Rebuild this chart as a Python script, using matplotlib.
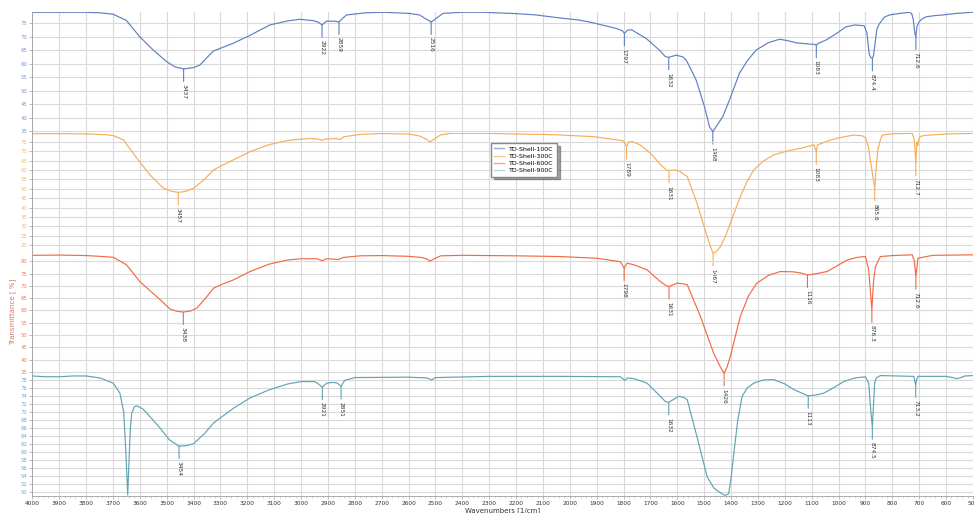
import numpy as np
import matplotlib.pyplot as plt
from matplotlib.ticker import MultipleLocator

# FTIR spectra, wavenumber [1/cm] vs transmittance [%]
wn_100 = [4000, 3900, 3800, 3750, 3700, 3650, 3600, 3550, 3500, 3470, 3437, 3400, 3377, 3327,
          3253, 3191, 3116, 3050, 3005, 2955, 2935, 2922, 2906, 2875, 2859, 2845, 2831, 2760,
          2695, 2600, 2559, 2535, 2516, 2500, 2472, 2400, 2323, 2200, 2125, 2038, 1964, 1914,
          1827, 1805, 1797, 1785, 1770, 1716, 1667, 1645, 1632, 1605, 1580, 1567, 1530, 1499,
          1480, 1468, 1456, 1431, 1406, 1369, 1340, 1307, 1260, 1220, 1190, 1158, 1120, 1090,
          1083, 1075, 1047, 1010, 973, 940, 905, 895, 886, 880, 874.4, 870, 865, 858, 850,
          830, 811, 770, 737, 728, 722, 716, 712.6, 708, 700, 690, 675, 640, 613, 560, 500]
tr_100 = [79.0, 79.0, 79.0, 78.8, 78.3, 76.0, 69.9, 65.0, 60.7, 58.8, 58.0, 58.5, 59.4, 64.6,
          67.5, 70.4, 74.3, 75.8, 76.4, 75.9, 75.3, 74.3, 75.7, 75.7, 75.4, 76.8, 78.0, 78.8,
          79.0, 78.6, 78.0, 76.5, 75.4, 76.5, 78.6, 79.0, 79.0, 78.5, 78.0, 76.9, 76.1, 75.1,
          73.0, 72.2, 71.2, 72.4, 72.5, 69.3, 65.0, 62.6, 62.3, 63.1, 62.5, 61.3, 53.9, 44.0,
          36.5, 34.8, 36.6, 40.3, 46.5, 56.4, 61.0, 65.0, 67.8, 69.0, 68.5, 67.7, 67.3, 67.1,
          66.8, 67.5, 68.7, 71.0, 73.6, 74.3, 74.0, 71.5, 63.5, 62.2, 61.9, 63.0, 67.0, 72.5, 74.5,
          77.2, 78.0, 78.6, 79.0, 78.5, 76.1, 71.0, 69.9, 74.0, 75.5, 76.5, 77.3, 77.8, 78.0, 78.6, 79.0]

wn_300 = [4000, 3900, 3800, 3720, 3700, 3661, 3611, 3562, 3512, 3480, 3457, 3430, 3400, 3360,
          3326, 3290, 3252, 3190, 3120, 3050, 3000, 2960, 2935, 2922, 2910, 2870, 2855, 2840,
          2780, 2700, 2600, 2560, 2535, 2520, 2505, 2480, 2440, 2300, 2200, 2100, 2036, 1911,
          1824, 1800, 1789, 1780, 1768, 1740, 1700, 1660, 1640, 1631, 1607, 1590, 1563, 1527,
          1489, 1475, 1467, 1455, 1440, 1420, 1403, 1366, 1340, 1316, 1280, 1242, 1190, 1142,
          1092, 1083, 1079, 1040, 1005, 943, 910, 900, 890, 880, 872, 865.6, 860, 854, 845, 838,
          800, 726, 720, 716, 712.7, 709, 706, 702, 698, 680, 600, 500]
tr_300 = [79.4, 79.4, 79.3, 78.8, 78.4, 76.1, 66.3, 57.4, 50.3, 48.6, 48.1, 48.6, 50.3, 55.0,
          60.0, 62.8, 65.4, 69.8, 73.5, 75.8, 76.5, 76.8, 76.5, 75.8, 76.5, 76.8, 76.3, 77.8,
          79.0, 79.5, 79.2, 78.2, 76.5, 75.0, 76.5, 78.8, 79.6, 79.6, 79.2, 79.0, 78.7, 77.8,
          76.1, 75.5, 72.5, 75.0, 75.2, 73.5, 69.0, 62.5, 60.0, 59.8, 60.0, 59.2, 56.5, 42.3,
          24.4, 18.5, 15.6, 16.5, 19.1, 25.0, 31.6, 45.8, 54.0, 60.0, 64.8, 68.1, 70.2, 71.6,
          73.4, 69.8, 73.4, 75.5, 77.0, 78.7, 78.2, 77.0, 73.0, 63.6, 56.0, 50.3, 62.0, 70.7, 76.0, 78.7,
          79.3, 79.6, 77.0, 71.0, 63.6, 75.0, 73.0, 76.0, 77.8, 78.5, 79.2, 79.6]

wn_600 = [4000, 3900, 3800, 3750, 3699, 3649, 3600, 3537, 3487, 3460, 3438, 3410, 3388, 3355,
          3326, 3290, 3252, 3190, 3120, 3050, 3000, 2940, 2921, 2905, 2860, 2845, 2780, 2700,
          2600, 2550, 2530, 2520, 2505, 2480, 2400, 2200, 2036, 1899, 1812, 1798, 1787, 1760,
          1713, 1663, 1640, 1631, 1600, 1580, 1563, 1514, 1465, 1440, 1426, 1415, 1403, 1366,
          1335, 1304, 1260, 1217, 1170, 1140, 1116, 1090, 1043, 1000, 968, 930, 900, 888, 882,
          876.3, 870, 863, 845, 800, 726, 718, 712.6, 708, 705, 650, 500]
tr_600 = [82.4, 82.5, 82.3, 82.0, 81.6, 78.5, 71.7, 65.6, 60.5, 59.6, 59.3, 59.8, 60.9, 65.0,
          69.0, 70.8, 72.4, 75.8, 78.8, 80.5, 81.0, 81.0, 80.2, 81.0, 80.7, 81.5, 82.2, 82.3,
          82.0, 81.5, 80.8, 80.0, 81.0, 82.2, 82.4, 82.2, 81.9, 81.2, 79.8, 77.2, 79.2, 78.5,
          76.5, 71.7, 69.9, 69.7, 71.1, 70.8, 70.4, 57.5, 42.6, 37.0, 34.4, 37.0, 41.2, 57.5,
          66.0, 71.1, 74.3, 75.8, 75.7, 75.2, 74.4, 74.8, 75.8, 78.5, 80.5, 81.6, 81.9, 76.5, 68.0,
          60.2, 72.0, 77.8, 81.9, 82.3, 82.6, 80.0, 73.7, 78.0, 81.2, 82.4, 82.6]

wn_900 = [4000, 3950, 3900, 3850, 3800, 3748, 3699, 3674, 3660, 3652, 3645, 3640, 3635, 3630,
          3620, 3611, 3590, 3574, 3524, 3490, 3454, 3430, 3401, 3360, 3326, 3290, 3252, 3190,
          3120, 3050, 3000, 2950, 2935, 2921, 2905, 2880, 2865, 2851, 2838, 2800, 2600, 2530, 2515,
          2500, 2300, 2036, 1812, 1796, 1785, 1760, 1713, 1663, 1645, 1632, 1595, 1575, 1563,
          1527, 1489, 1465, 1452, 1430, 1421, 1409, 1400, 1390, 1375, 1359, 1340, 1316, 1280,
          1241, 1200, 1167, 1140, 1113, 1080, 1055, 1020, 981, 940, 900, 888, 880, 874.5, 870,
          866, 860, 845, 780, 720, 716, 713.2, 710, 705, 600, 575, 560, 545, 530, 500]
tr_900 = [79.0, 78.8, 78.8, 79.0, 79.0, 78.5, 77.2, 74.7, 70.0, 60.0, 49.2, 58.0, 66.0, 69.7,
          71.3, 71.5, 70.8, 69.7, 65.9, 63.0, 61.4, 61.5, 62.0, 64.5, 67.2, 69.0, 70.9, 73.5,
          75.5, 77.0, 77.6, 77.6, 77.0, 76.2, 77.2, 77.4, 77.2, 76.4, 77.9, 78.6, 78.7, 78.5, 78.0,
          78.6, 78.9, 78.9, 78.8, 77.9, 78.5, 78.3, 77.2, 73.9, 72.6, 72.4, 73.9, 73.6, 73.0,
          63.8, 53.7, 51.0, 50.3, 49.3, 49.1, 49.5, 53.5, 59.6, 68.0, 73.9, 76.0, 77.2, 78.0,
          78.1, 77.0, 75.6, 74.8, 74.0, 74.3, 74.7, 76.0, 77.6, 78.5, 78.8, 77.2, 70.0, 66.3, 72.0,
          77.2, 78.5, 79.1, 79.0, 78.9, 77.5, 76.8, 78.0, 78.9, 78.9, 78.6, 78.3, 78.6, 79.0, 79.1]

peaks_100 = [3437, 2922, 2859, 2516, 1797, 1632, 1468, 1083, 874.4, 712.6]
peaks_300 = [3457, 1789, 1631, 1467, 1083, 865.6, 712.7]
peaks_600 = [3438, 1798, 1631, 1426, 1116, 876.3, 712.6]
peaks_900 = [3454, 2921, 2851, 1632, 1113, 874.5, 713.2]

names = ['TD-Shell-100C', 'TD-Shell-300C', 'TD-Shell-600C', 'TD-Shell-900C']
colors = ['#5f7fc0', '#f6ad5a', '#f26a44', '#5ea4b4']
tick_colors = ['#7f9bd2', '#f5b879', '#f07e5e', '#6fb0c0']
legend_colors = ['#9aaed8', '#f8c48a', '#f5a28a', '#b7d8e0']
ylims = [(34.3, 79.1), (15.3, 79.8), (33.8, 83.0), (49.0, 79.3)]
yticks = [np.arange(35, 76, 5), np.arange(20, 76, 5), np.arange(35, 81, 5), np.arange(50, 79, 2)]

data = [(wn_100, tr_100, peaks_100), (wn_300, tr_300, peaks_300),
        (wn_600, tr_600, peaks_600), (wn_900, tr_900, peaks_900)]

fig = plt.figure(figsize=(9.74, 5.13), dpi=100)
fig.patch.set_facecolor('white')

left = 32.3 / 974
width = (973 - 32.3) / 974
top = 1 - 12 / 513
bottom = 1 - 495.7 / 513
h = (top - bottom) / 4

handles = []
for i, (wn, tr, peaks) in enumerate(data):
    ax = fig.add_axes([left, top - (i + 1) * h, width, h])
    ax.set_facecolor('none')
    ax.plot(wn, tr, color=colors[i], lw=0.85)
    handles.append(plt.Line2D([], [], color=legend_colors[i], lw=1.0))
    ax.set_xlim(4000, 500)
    ax.set_ylim(*ylims[i])
    ax.set_yticks(yticks[i])
    ax.xaxis.set_major_locator(MultipleLocator(100))
    ax.xaxis.set_minor_locator(MultipleLocator(20))
    ax.grid(True, which='major', color='#d9d9d9', lw=0.8)
    ax.set_axisbelow(True)
    ax.tick_params(axis='y', labelsize=3.9, labelcolor=tick_colors[i], length=2,
                   width=0.5, color='#a0a0a0', pad=1.5)
    for s in ['top', 'right']:
        ax.spines[s].set_visible(False)
    ax.spines['left'].set_color('#a0a0a0')
    ax.spines['left'].set_linewidth(0.6)
    if i < 3:
        ax.spines['bottom'].set_visible(False)
        ax.tick_params(axis='x', which='both', bottom=False, labelbottom=False)
    else:
        ax.spines['bottom'].set_color('#a0a0a0')
        ax.spines['bottom'].set_linewidth(0.6)
        ax.tick_params(axis='x', which='major', labelsize=4.2, labelcolor='#333333',
                       length=2.5, width=0.5, color='#a0a0a0', pad=1.5)
        ax.tick_params(axis='x', which='minor', length=1.5, width=0.4, color='#b0b0b0')
        ax.set_xlabel('Wavenumbers [1/cm]', fontsize=5, color='#333333', labelpad=0.5)

    # peak labels
    xs = np.array(wn)[::-1]
    ys = np.array(tr)[::-1]
    for p in peaks:
        v = np.interp(p, xs, ys)
        ax.annotate(f'{p:g}', xy=(p, v), xytext=(0, -11), textcoords='offset points',
                    rotation=270, ha='center', va='top', fontsize=4.2, color='#333333',
                    arrowprops=dict(arrowstyle='-', color=colors[i], lw=0.8,
                                    shrinkA=0, shrinkB=0))

fig.text(13 / 974, 1 - 312 / 513, 'Transmittance [ %]', rotation=90, ha='center',
         va='center', fontsize=5, color='#c97b66')

fig.legend(handles, names, loc='upper left', bbox_to_anchor=(488 / 974, 1 - 140 / 513),
           fontsize=4.5, frameon=True, fancybox=False, shadow=True, edgecolor='#888888',
           borderpad=0.5, handlelength=1.6, labelspacing=0.3, handletextpad=0.8)

fig.savefig('out.png', dpi=100)
